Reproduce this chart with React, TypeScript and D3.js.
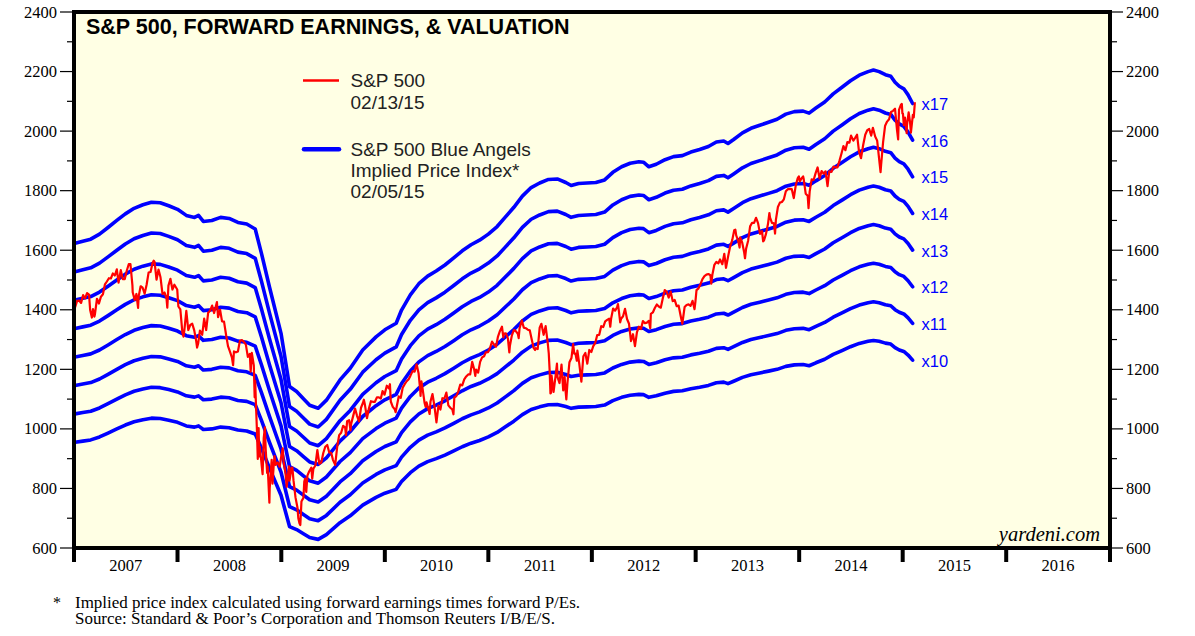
import React from "react";
import * as d3 from "d3";

// ---------------- DATA ----------------
const yearLabels = ["2007", "2008", "2009", "2010", "2011", "2012", "2013", "2014", "2015", "2016"];
const yMajorTicks = [600, 800, 1000, 1200, 1400, 1600, 1800, 2000, 2200, 2400];
const yMinorTicks = [700, 900, 1100, 1300, 1500, 1700, 1900, 2100, 2300];
const multiples = [10, 11, 12, 13, 14, 15, 16, 17];

// Forward earnings (implied price index = earnings x multiple)
const earnDates = [
  "2007-01-05", "2007-02-01", "2007-03-01", "2007-04-01", "2007-05-01", "2007-06-01", "2007-07-01",
  "2007-08-01", "2007-09-01", "2007-10-01", "2007-11-01", "2007-12-01", "2008-01-01", "2008-02-01",
  "2008-03-01", "2008-03-15", "2008-04-01", "2008-05-01", "2008-06-01", "2008-07-01", "2008-08-01",
  "2008-09-01", "2008-10-01", "2008-10-23", "2008-11-20", "2008-12-31", "2009-01-30", "2009-02-24",
  "2009-03-20", "2009-04-11", "2009-05-11", "2009-06-09", "2009-07-27", "2009-09-01", "2009-10-15",
  "2009-12-01", "2010-01-01", "2010-02-10", "2010-03-01", "2010-04-01", "2010-05-01", "2010-06-01",
  "2010-07-01", "2010-08-01", "2010-09-01", "2010-10-01", "2010-11-01", "2010-12-01", "2011-01-01",
  "2011-02-01", "2011-03-01", "2011-04-01", "2011-05-01", "2011-06-01", "2011-07-01", "2011-08-01",
  "2011-09-01", "2011-10-01", "2011-10-20", "2011-11-15", "2011-12-15", "2012-01-15", "2012-02-15",
  "2012-03-15", "2012-04-15", "2012-05-15", "2012-06-15", "2012-07-01", "2012-07-20", "2012-08-15",
  "2012-09-15", "2012-10-15", "2012-11-15", "2012-12-15", "2013-01-15", "2013-02-15", "2013-03-15",
  "2013-04-10", "2013-04-25", "2013-05-15", "2013-06-15", "2013-07-15", "2013-08-15", "2013-09-15",
  "2013-10-15", "2013-11-15", "2013-12-15", "2014-01-15", "2014-02-05", "2014-03-01", "2014-04-01",
  "2014-05-01", "2014-06-01", "2014-07-01", "2014-08-01", "2014-09-01", "2014-09-20", "2014-10-10",
  "2014-11-01", "2014-11-20", "2014-12-05", "2014-12-20", "2015-01-05", "2015-01-20", "2015-02-05",
];
const earnValues = [
  95.5, 95.9, 96.3, 97.3, 98.6, 100.0, 101.3,
  102.4, 103.1, 103.6, 103.5, 102.9, 102.2, 101.0,
  100.6, 101.0, 99.8, 100.0, 100.6, 100.4, 99.6,
  99.3, 98.3, 93.5, 86.9, 77.7, 67.2, 66.2,
  64.8, 63.5, 62.9, 64.5, 68.5, 70.8, 74.4,
  77.0, 78.4, 79.7, 82.3, 85.3, 87.5, 89.0,
  90.0, 91.2, 92.6, 94.0, 95.2, 96.1, 97.3,
  98.8, 100.6, 102.6, 104.8, 106.5, 107.4, 108.1,
  108.2, 107.5, 106.9, 107.3, 107.4, 107.5, 108.0,
  109.5, 110.6, 111.3, 111.6, 111.5, 110.6, 111.1,
  112.0, 112.6, 112.8, 113.5, 114.0, 114.6, 115.5,
  115.7, 115.2, 116.0, 117.3, 118.2, 118.8, 119.4,
  120.0, 121.0, 121.5, 121.6, 121.2, 122.2, 123.4,
  125.0, 126.3, 127.6, 128.7, 129.4, 129.7, 129.4,
  128.8, 128.5, 127.3, 126.5, 126.0, 124.8, 123.1,
];

// S&P 500 (approx. weekly closes, with intra-week extremes)
const spx2007: [string, number][] = [
  ["01-03", 1417], ["01-05", 1409], ["01-12", 1430], ["01-19", 1431], ["01-26", 1423], ["02-02", 1449],
  ["02-09", 1438], ["02-16", 1456], ["02-23", 1451], ["02-27", 1399], ["03-02", 1387], ["03-05", 1374],
  ["03-09", 1402], ["03-14", 1377], ["03-16", 1386], ["03-23", 1437], ["03-30", 1421], ["04-06", 1444],
  ["04-13", 1452], ["04-20", 1485], ["04-27", 1495], ["05-04", 1506], ["05-11", 1505], ["05-18", 1522],
  ["05-25", 1515], ["06-01", 1536], ["06-07", 1491], ["06-15", 1533], ["06-22", 1503], ["06-29", 1503],
  ["07-06", 1531], ["07-13", 1553], ["07-19", 1553], ["07-26", 1482], ["07-27", 1459], ["08-03", 1433],
  ["08-09", 1453], ["08-15", 1406], ["08-17", 1445], ["08-24", 1479], ["08-31", 1474], ["09-07", 1454],
  ["09-14", 1484], ["09-21", 1525], ["09-28", 1527], ["10-05", 1557], ["10-09", 1565], ["10-12", 1561],
  ["10-19", 1501], ["10-26", 1535], ["11-02", 1509], ["11-09", 1453], ["11-16", 1458], ["11-23", 1440],
  ["11-26", 1407], ["11-30", 1481], ["12-07", 1504], ["12-14", 1468], ["12-21", 1484], ["12-31", 1468],
];
const spx2008: [string, number][] = [
  ["01-04", 1411], ["01-11", 1401], ["01-18", 1325], ["01-22", 1310], ["01-25", 1330], ["02-01", 1396],
  ["02-08", 1332], ["02-15", 1349], ["02-22", 1353], ["02-29", 1331], ["03-07", 1294], ["03-10", 1273],
  ["03-14", 1288], ["03-20", 1330], ["03-28", 1316], ["04-04", 1370], ["04-11", 1332], ["04-18", 1390],
  ["04-25", 1397], ["05-02", 1414], ["05-09", 1389], ["05-19", 1426], ["05-23", 1375], ["05-30", 1400],
  ["06-06", 1361], ["06-13", 1360], ["06-20", 1317], ["06-27", 1278], ["07-03", 1262], ["07-11", 1239],
  ["07-15", 1214], ["07-18", 1260], ["07-25", 1257], ["08-01", 1260], ["08-08", 1296], ["08-15", 1298],
  ["08-22", 1292], ["08-29", 1283], ["09-05", 1242], ["09-12", 1252], ["09-15", 1192], ["09-19", 1255],
  ["09-26", 1213], ["09-29", 1106], ["10-01", 1161], ["10-03", 1099], ["10-07", 996], ["10-10", 899],
  ["10-13", 1003], ["10-15", 908], ["10-17", 940], ["10-22", 896], ["10-24", 876], ["10-27", 848],
  ["10-31", 969], ["11-04", 1005], ["11-07", 930], ["11-12", 852], ["11-14", 873], ["11-20", 752],
  ["11-21", 800], ["11-28", 896], ["12-01", 816], ["12-05", 876], ["12-08", 909], ["12-12", 879],
  ["12-19", 887], ["12-26", 873], ["12-31", 903],
];
const spx2009: [string, number][] = [
  ["01-06", 935], ["01-09", 890], ["01-16", 850], ["01-20", 805], ["01-23", 832], ["01-28", 874],
  ["01-30", 826], ["02-06", 869], ["02-09", 870], ["02-13", 827], ["02-20", 770], ["02-27", 735],
  ["03-02", 700], ["03-06", 683], ["03-09", 677], ["03-13", 756], ["03-20", 769], ["03-23", 823],
  ["03-26", 833], ["03-30", 788], ["04-03", 843], ["04-09", 857], ["04-17", 870], ["04-20", 833],
  ["04-24", 866], ["05-01", 877], ["05-08", 929], ["05-15", 883], ["05-22", 887], ["05-29", 919],
  ["06-05", 940], ["06-12", 946], ["06-19", 921], ["06-26", 919], ["07-02", 896], ["07-10", 879],
  ["07-17", 940], ["07-24", 979], ["07-31", 987], ["08-07", 1010], ["08-14", 1005], ["08-17", 979],
  ["08-21", 1026], ["08-28", 1029], ["09-02", 995], ["09-04", 1016], ["09-11", 1042], ["09-18", 1068],
  ["09-25", 1044], ["10-02", 1025], ["10-09", 1071], ["10-16", 1088], ["10-19", 1098], ["10-23", 1080],
  ["10-30", 1036], ["11-06", 1069], ["11-13", 1093], ["11-20", 1091], ["11-27", 1091], ["12-04", 1106],
  ["12-11", 1106], ["12-18", 1102], ["12-24", 1127], ["12-31", 1115],
];
const spx2010: [string, number][] = [
  ["01-08", 1145], ["01-15", 1136], ["01-19", 1150], ["01-22", 1092], ["01-29", 1074], ["02-05", 1066],
  ["02-08", 1056], ["02-12", 1075], ["02-19", 1109], ["02-26", 1104], ["03-05", 1138], ["03-12", 1150],
  ["03-19", 1160], ["03-26", 1167], ["04-01", 1178], ["04-09", 1194], ["04-16", 1192], ["04-23", 1217],
  ["04-30", 1187], ["05-06", 1128], ["05-07", 1111], ["05-10", 1160], ["05-14", 1136], ["05-21", 1088],
  ["05-25", 1074], ["05-28", 1089], ["06-04", 1065], ["06-08", 1050], ["06-11", 1092], ["06-18", 1117],
  ["06-25", 1076], ["07-02", 1022], ["07-09", 1078], ["07-16", 1065], ["07-23", 1103], ["07-30", 1102],
  ["08-06", 1122], ["08-13", 1079], ["08-20", 1071], ["08-27", 1065], ["08-31", 1049], ["09-03", 1105],
  ["09-10", 1110], ["09-17", 1125], ["09-24", 1149], ["10-01", 1146], ["10-08", 1166], ["10-15", 1176],
  ["10-22", 1183], ["10-29", 1183], ["11-05", 1225], ["11-12", 1200], ["11-16", 1178], ["11-19", 1199],
  ["11-26", 1189], ["12-03", 1225], ["12-10", 1240], ["12-17", 1244], ["12-23", 1257], ["12-31", 1258],
];
const spx2011: [string, number][] = [
  ["01-07", 1272], ["01-14", 1293], ["01-21", 1283], ["01-28", 1276], ["02-04", 1310], ["02-11", 1329],
  ["02-18", 1343], ["02-23", 1307], ["02-25", 1320], ["03-04", 1321], ["03-11", 1304], ["03-16", 1257],
  ["03-18", 1279], ["03-25", 1314], ["04-01", 1332], ["04-08", 1328], ["04-15", 1319], ["04-18", 1305],
  ["04-21", 1337], ["04-29", 1364], ["05-06", 1340], ["05-13", 1338], ["05-20", 1333], ["05-27", 1331],
  ["06-03", 1300], ["06-10", 1271], ["06-15", 1265], ["06-17", 1271], ["06-24", 1268], ["07-01", 1340],
  ["07-07", 1353], ["07-15", 1316], ["07-22", 1345], ["07-29", 1292], ["08-02", 1254], ["08-05", 1199],
  ["08-08", 1119], ["08-09", 1172], ["08-10", 1121], ["08-12", 1179], ["08-19", 1124], ["08-26", 1177],
  ["08-31", 1219], ["09-02", 1174], ["09-09", 1154], ["09-16", 1216], ["09-22", 1129], ["09-27", 1175],
  ["09-30", 1131], ["10-03", 1099], ["10-07", 1155], ["10-14", 1224], ["10-21", 1238], ["10-27", 1285],
  ["10-31", 1253], ["11-04", 1253], ["11-09", 1229], ["11-11", 1263], ["11-18", 1216], ["11-25", 1159],
  ["12-02", 1244], ["12-09", 1255], ["12-16", 1219], ["12-23", 1265], ["12-30", 1258],
];
const spx2012: [string, number][] = [
  ["01-06", 1278], ["01-13", 1289], ["01-20", 1315], ["01-27", 1316], ["02-03", 1345], ["02-10", 1342],
  ["02-17", 1361], ["02-24", 1366], ["03-02", 1370], ["03-06", 1343], ["03-09", 1371], ["03-16", 1404],
  ["03-23", 1397], ["03-30", 1408], ["04-02", 1419], ["04-05", 1398], ["04-10", 1358], ["04-13", 1370],
  ["04-20", 1378], ["04-27", 1403], ["05-04", 1369], ["05-11", 1353], ["05-18", 1295], ["05-25", 1318],
  ["06-01", 1278], ["06-08", 1325], ["06-15", 1343], ["06-22", 1335], ["06-29", 1362], ["07-06", 1355],
  ["07-13", 1357], ["07-20", 1363], ["07-25", 1338], ["07-27", 1386], ["08-03", 1391], ["08-10", 1406],
  ["08-17", 1418], ["08-24", 1411], ["08-31", 1407], ["09-07", 1438], ["09-14", 1466], ["09-21", 1460],
  ["09-28", 1441], ["10-05", 1461], ["10-12", 1429], ["10-19", 1433], ["10-26", 1412], ["11-02", 1414],
  ["11-09", 1380], ["11-15", 1353], ["11-23", 1409], ["11-30", 1416], ["12-07", 1418], ["12-14", 1413],
  ["12-21", 1430], ["12-28", 1402], ["12-31", 1426],
];
const spx2013: [string, number][] = [
  ["01-04", 1466], ["01-11", 1472], ["01-18", 1486], ["01-25", 1503], ["02-01", 1513], ["02-08", 1518],
  ["02-15", 1520], ["02-22", 1516], ["02-25", 1488], ["03-01", 1518], ["03-08", 1551], ["03-15", 1561],
  ["03-22", 1556], ["03-28", 1569], ["04-05", 1553], ["04-12", 1588], ["04-18", 1541], ["04-26", 1582],
  ["05-03", 1614], ["05-10", 1634], ["05-17", 1667], ["05-21", 1669], ["05-24", 1650], ["05-31", 1631],
  ["06-05", 1609], ["06-07", 1643], ["06-14", 1626], ["06-21", 1593], ["06-24", 1573], ["06-28", 1606],
  ["07-05", 1632], ["07-12", 1680], ["07-19", 1692], ["07-26", 1692], ["08-02", 1709], ["08-09", 1691],
  ["08-16", 1655], ["08-23", 1664], ["08-27", 1630], ["08-30", 1633], ["09-06", 1655], ["09-13", 1688],
  ["09-18", 1725], ["09-20", 1710], ["09-27", 1692], ["10-04", 1690], ["10-08", 1656], ["10-11", 1703],
  ["10-18", 1745], ["10-25", 1760], ["11-01", 1762], ["11-08", 1771], ["11-15", 1798], ["11-22", 1805],
  ["11-29", 1806], ["12-06", 1805], ["12-13", 1775], ["12-20", 1818], ["12-27", 1842], ["12-31", 1848],
];
const spx2014: [string, number][] = [
  ["01-03", 1831], ["01-10", 1842], ["01-15", 1848], ["01-17", 1839], ["01-24", 1790], ["01-31", 1783],
  ["02-03", 1741], ["02-07", 1797], ["02-14", 1838], ["02-21", 1836], ["02-28", 1859], ["03-07", 1878],
  ["03-14", 1841], ["03-21", 1866], ["03-28", 1857], ["04-04", 1865], ["04-11", 1815], ["04-17", 1865],
  ["04-25", 1863], ["05-02", 1881], ["05-09", 1878], ["05-16", 1878], ["05-23", 1900], ["05-30", 1924],
  ["06-06", 1950], ["06-13", 1936], ["06-20", 1963], ["06-27", 1961], ["07-03", 1985], ["07-11", 1968],
  ["07-18", 1978], ["07-24", 1988], ["07-31", 1931], ["08-07", 1909], ["08-15", 1955], ["08-22", 1988],
  ["08-29", 2003], ["09-05", 2007], ["09-12", 1985], ["09-18", 2011], ["09-26", 1982], ["10-03", 1968],
  ["10-10", 1906], ["10-15", 1862], ["10-17", 1887], ["10-24", 1964], ["10-31", 2018], ["11-07", 2032],
  ["11-14", 2040], ["11-21", 2064], ["11-28", 2068], ["12-05", 2075], ["12-12", 2003], ["12-16", 1972],
  ["12-19", 2071], ["12-26", 2089], ["12-29", 2091], ["12-31", 2059],
];
const spx2015: [string, number][] = [
  ["01-02", 2058], ["01-05", 2020], ["01-09", 2045], ["01-15", 1993], ["01-16", 2019], ["01-22", 2063],
  ["01-27", 2030], ["01-30", 1995], ["02-02", 2021], ["02-06", 2055], ["02-09", 2046], ["02-13", 2097],
];
const spxYears: [number, [string, number][]][] = [
  [2007, spx2007], [2008, spx2008], [2009, spx2009], [2010, spx2010], [2011, spx2011],
  [2012, spx2012], [2013, spx2013], [2014, spx2014], [2015, spx2015],
];

// ---------------- CHART ----------------
type Pt = { date: Date; v: number };

const SANS = "'Liberation Sans', Arial, Helvetica, sans-serif";
const SERIF = "'Liberation Serif', 'Times New Roman', serif";
const BLUE = "#0000FF";
const RED = "#FF0000";

export default function App() {
  const left = 74, right = 1110, top = 12, bottom = 548;
  const x = d3.scaleTime().domain([new Date(2007, 0, 1), new Date(2017, 0, 1)]).range([left, right]);
  const y = d3.scaleLinear().domain([600, 2400]).range([bottom, top]);
  const parse = d3.timeParse("%Y-%m-%d");

  const earn: Pt[] = earnDates.map((d, i) => ({ date: parse(d) as Date, v: earnValues[i] }));
  const spx: Pt[] = [];
  spxYears.forEach(([yr, arr]) => arr.forEach(([md, v]) => spx.push({ date: parse(`${yr}-${md}`) as Date, v })));

  const line = d3.line<Pt>().x((d) => x(d.date)).y((d) => y(d.v));
  const last = earn[earn.length - 1];

  const yearStarts = yearLabels.map((yl) => new Date(+yl, 0, 1));
  const tickBounds = [...yearStarts, new Date(2017, 0, 1)];

  return (
    <svg width={1195} height={636} style={{ position: "absolute", left: 0, top: 0, background: "#fff" }}>
      <defs>
        <clipPath id="plotclip">
          <rect x={left} y={top} width={right - left} height={bottom - top} />
        </clipPath>
      </defs>
      <rect x={0} y={0} width={1195} height={636} fill="#ffffff" />
      <rect x={left} y={top} width={right - left} height={bottom - top} fill="#FFFFE4" />

      {/* Blue angels */}
      <g clipPath="url(#plotclip)">
        {multiples.map((m) => (
          <path
            key={m}
            d={line(earn.map((p) => ({ date: p.date, v: p.v * m }))) || ""}
            fill="none"
            stroke={BLUE}
            strokeWidth={3.6}
            strokeLinejoin="round"
            strokeLinecap="round"
          />
        ))}
        <path d={line(spx) || ""} fill="none" stroke={RED} strokeWidth={2.2} strokeLinejoin="round" />
      </g>

      {/* multiple labels */}
      {multiples.map((m) => (
        <text
          key={m}
          x={x(last.date) + 9}
          y={y(last.v * m) + 6.5}
          fill={BLUE}
          fontFamily={SANS}
          fontSize={16.5}
        >
          {`x${m}`}
        </text>
      ))}

      {/* Title */}
      <text x={86} y={34} fontFamily={SANS} fontWeight="bold" fontSize={21.5} fill="#000">
        S&amp;P 500, FORWARD EARNINGS, &amp; VALUATION
      </text>

      {/* Legend */}
      <line x1={303} x2={339} y1={80.5} y2={80.5} stroke={RED} strokeWidth={2.5} />
      <text x={350.5} y={87} fontFamily={SANS} fontSize={19} fill="#222">S&amp;P 500</text>
      <text x={350.5} y={109} fontFamily={SANS} fontSize={19} fill="#222">02/13/15</text>
      <line x1={304} x2={339} y1={149.3} y2={149.3} stroke={BLUE} strokeWidth={4.5} strokeLinecap="round" />
      <text x={350.5} y={156} fontFamily={SANS} fontSize={19} fill="#222">S&amp;P 500 Blue Angels</text>
      <text x={350.5} y={177} fontFamily={SANS} fontSize={19} fill="#222">Implied Price Index*</text>
      <text x={350.5} y={197.5} fontFamily={SANS} fontSize={19} fill="#222">02/05/15</text>

      {/* yardeni.com */}
      <text x={1100} y={541} textAnchor="end" fontFamily={SERIF} fontStyle="italic" fontSize={20.5} fill="#000">
        yardeni.com
      </text>

      {/* Frame */}
      <rect x={left} y={top} width={right - left} height={bottom - top} fill="none" stroke="#000" strokeWidth={4} />

      {/* Left & right axes */}
      {yMajorTicks.map((t) => (
        <g key={`maj${t}`}>
          <line x1={60} x2={left} y1={y(t)} y2={y(t)} stroke="#000" strokeWidth={1.2} />
          <line x1={right} x2={1123} y1={y(t)} y2={y(t)} stroke="#000" strokeWidth={1.2} />
          <text x={57} y={y(t) + 5.5} textAnchor="end" fontFamily={SERIF} fontSize={16.5} fill="#000">{t}</text>
          <text x={1126} y={y(t) + 5.5} textAnchor="start" fontFamily={SERIF} fontSize={16.5} fill="#000">{t}</text>
        </g>
      ))}
      {yMinorTicks.map((t) => (
        <g key={`min${t}`}>
          <line x1={67} x2={left} y1={y(t)} y2={y(t)} stroke="#000" strokeWidth={1.2} />
          <line x1={right} x2={1117} y1={y(t)} y2={y(t)} stroke="#000" strokeWidth={1.2} />
        </g>
      ))}

      {/* Bottom axis */}
      {tickBounds.map((d, i) => (
        <line key={`yt${i}`} x1={x(d)} x2={x(d)} y1={bottom} y2={562} stroke="#000" strokeWidth={4} />
      ))}
      {yearLabels.map((yl, i) => {
        const cx = (x(yearStarts[i]) + x(tickBounds[i + 1])) / 2;
        return (
          <text key={yl} x={cx} y={571} textAnchor="middle" fontFamily={SERIF} fontSize={16.5} fill="#000">
            {yl}
          </text>
        );
      })}

      {/* Footnotes */}
      <text x={53} y={608} fontFamily={SERIF} fontSize={16} fill="#000">*</text>
      <text x={75} y={608} fontFamily={SERIF} fontSize={16} fill="#000" textLength={505} lengthAdjust="spacingAndGlyphs">
        Implied price index calculated using forward earnings times forward P/Es.
      </text>
      <text x={75} y={624} fontFamily={SERIF} fontSize={16} fill="#000" textLength={480} lengthAdjust="spacingAndGlyphs">
        Source: Standard &amp; Poor’s Corporation and Thomson Reuters I/B/E/S.
      </text>
    </svg>
  );
}
